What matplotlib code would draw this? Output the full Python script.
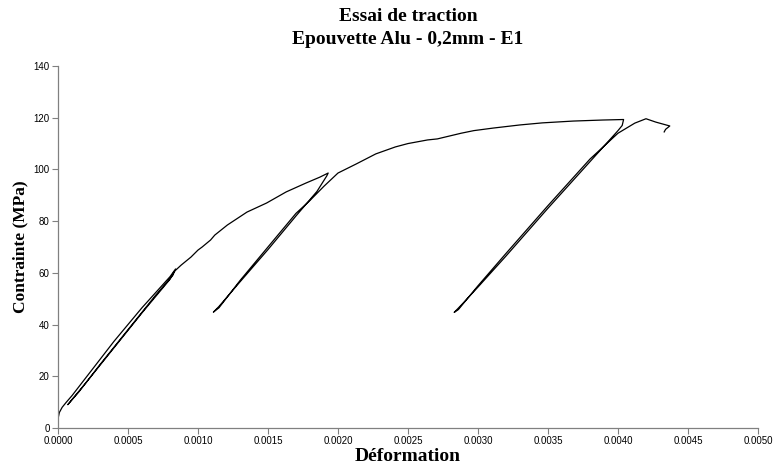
import matplotlib
matplotlib.use('Agg')
import matplotlib.pyplot as plt
from matplotlib.ticker import FormatStrFormatter, MultipleLocator

# Strain / stress, one list per branch of the test
load1_x = [0.0, 0.00001, 0.00003, 0.00006, 0.0001, 0.0002, 0.0003, 0.0004, 0.0005, 0.0006, 0.0007, 0.0008, 0.00084]
load1_y = [3.5, 6.0, 8.0, 10.0, 12.5, 19.5, 26.5, 33.5, 40.0, 46.5, 52.5, 58.5, 61.5]
unload1_x = [0.00084, 0.00082, 0.0007, 0.0005, 0.0003, 0.00015, 0.00007]
unload1_y = [61.5, 59.0, 51.5, 38.0, 24.5, 14.0, 9.0]
reload1_x = [0.00007, 0.0001, 0.0002, 0.0004, 0.0006, 0.0008, 0.00083]
reload1_y = [9.0, 11.0, 17.5, 31.0, 44.5, 57.5, 60.5]
load2_x = [0.00083, 0.00088, 0.00095, 0.001, 0.00103, 0.00109, 0.00112, 0.00121, 0.00135,
           0.00149, 0.00163, 0.00177, 0.00187, 0.00193]
load2_y = [60.5, 63.0, 66.1, 68.8, 70.0, 72.7, 74.6, 78.5, 83.5, 87.0, 91.3, 94.7, 97.0, 98.6]
unload2_x = [0.00193, 0.00192, 0.00185, 0.0017, 0.0015, 0.0013, 0.00115, 0.00111]
unload2_y = [98.6, 97.5, 91.5, 82.0, 69.0, 56.5, 47.0, 44.8]
reload2_x = [0.00111, 0.00115, 0.0013, 0.0015, 0.0017, 0.0018, 0.0019, 0.002]
reload2_y = [44.8, 46.5, 57.0, 70.0, 83.0, 88.0, 93.5, 98.6]
load3_x = [0.002, 0.00213, 0.00227, 0.00241, 0.00250, 0.00264, 0.00271, 0.00288, 0.00297,
           0.00311, 0.00330, 0.00346, 0.00368, 0.00389, 0.00404]
load3_y = [98.6, 102.1, 106.0, 108.7, 110.0, 111.4, 111.8, 114.0, 115.0, 116.0, 117.2, 118.0,
           118.7, 119.1, 119.3]
unload3_x = [0.00404, 0.00403, 0.004, 0.0038, 0.0035, 0.0032, 0.003, 0.00288, 0.00283]
unload3_y = [119.3, 117.0, 115.0, 103.0, 85.0, 66.5, 54.5, 47.5, 44.7]
reload3_x = [0.00283, 0.00286, 0.003, 0.0032, 0.0035, 0.0038, 0.004, 0.00412, 0.0042,
             0.00427, 0.00433, 0.00437, 0.00434, 0.00433]
reload3_y = [44.7, 45.8, 55.0, 67.5, 86.0, 104.0, 114.0, 117.9, 119.6, 118.3, 117.4, 116.8,
             115.5, 114.5]

strain = (load1_x + unload1_x + reload1_x + load2_x + unload2_x + reload2_x
          + load3_x + unload3_x + reload3_x)
stress = (load1_y + unload1_y + reload1_y + load2_y + unload2_y + reload2_y
          + load3_y + unload3_y + reload3_y)

fig = plt.figure(figsize=(7.76, 4.68), dpi=100)
ax = fig.add_axes([0.0747, 0.0855, 0.9021, 0.7735])
ax.plot(strain, stress, color='black', linewidth=0.9)

ax.set_xlim(0, 0.005)
ax.set_ylim(0, 140)
ax.xaxis.set_major_locator(MultipleLocator(0.0005))
ax.yaxis.set_major_locator(MultipleLocator(20))
ax.xaxis.set_major_formatter(FormatStrFormatter('%.4f'))

for side in ['top', 'right']:
    ax.spines[side].set_visible(False)
for side in ['left', 'bottom']:
    ax.spines[side].set_color('#808080')
    ax.spines[side].set_linewidth(0.9)
ax.tick_params(direction='out', length=4, width=0.8, color='#808080', labelsize=7,
               pad=2)
for lab in ax.get_xticklabels() + ax.get_yticklabels():
    lab.set_fontfamily('Liberation Sans')

serif = {'family': 'Liberation Serif', 'weight': 'bold'}
ax.set_xlabel('Déformation', fontdict=serif, fontsize=14, labelpad=1)
ax.set_ylabel('Contrainte (MPa)', fontdict=serif, fontsize=12.5, labelpad=4)
ax.set_title('Essai de traction\nEpouvette Alu - 0,2mm - E1', fontdict=serif,
             fontsize=14, pad=16, linespacing=1.45)

fig.savefig('out.png', dpi=100)
